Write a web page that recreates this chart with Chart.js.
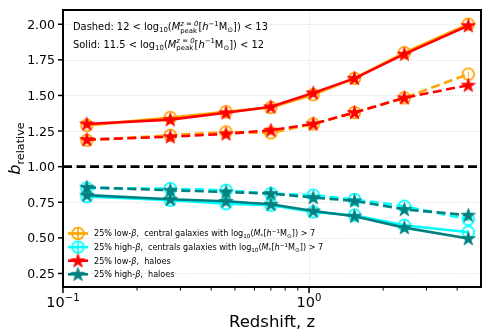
<!DOCTYPE html>
<html>
<head>
<meta charset="utf-8">
<script src="https://cdn.jsdelivr.net/npm/chart.js@4.4.1/dist/chart.umd.min.js"></script>
<style>
  html, body { margin: 0; padding: 0; background: #fff; }
</style>
</head>
<body>
<canvas id="chart" width="494" height="336"></canvas>
<script>
// Relative bias vs redshift

const redshift = [0.125, 0.273, 0.46, 0.70, 1.04, 1.53, 2.44, 4.44];

// solid: 11.5 < log Mpeak < 12, dashed: 12 < log Mpeak < 13
const lowBetaCentralsSolid  = [1.29, 1.345, 1.385, 1.415, 1.505, 1.62, 1.80, 2.00];
const lowBetaCentralsDashed = [1.185, 1.22, 1.244, 1.237, 1.30, 1.38, 1.483, 1.65];
const highBetaCentralsSolid  = [0.79, 0.764, 0.74, 0.73, 0.682, 0.659, 0.588, 0.54];
const highBetaCentralsDashed = [0.85, 0.846, 0.834, 0.811, 0.80, 0.769, 0.722, 0.63];
const lowBetaHaloesSolid  = [1.30, 1.33, 1.378, 1.42, 1.518, 1.62, 1.79, 1.99];
const lowBetaHaloesDashed = [1.19, 1.21, 1.23, 1.256, 1.30, 1.38, 1.483, 1.572];
const highBetaHaloesSolid  = [0.80, 0.771, 0.757, 0.736, 0.689, 0.652, 0.572, 0.495];
const highBetaHaloesDashed = [0.855, 0.834, 0.822, 0.811, 0.783, 0.76, 0.70, 0.659];

const unityX = [0.1, 5];
const unityY = [1, 1];

const yTicks = [0.25, 0.50, 0.75, 1.00, 1.25, 1.50, 1.75, 2.00];
const xMajorTicks = [0.1, 1];
const xMajorLabels = ['\u22121', '0'];
const xMinorTicks = [0.2, 0.3, 0.4, 0.5, 0.6, 0.7, 0.8, 0.9, 2, 3, 4];

// text pieces: [text, kind]  kind: '' normal, 'i' italic, '^' sup, '_' sub, 'S' stacked sup/sub
const noteDashed = [['Dashed: 12 < log', ''], ['10', '_'], ['(', ''], ['M', 'i'], [['z = 0', 'peak'], 'S'],
  ['[', ''], ['h', 'i'], ['\u22121', '^'], ['M', ''], ['\u2299', '_'], [']) < 13', '']];
const noteSolid = [['Solid: 11.5 < log', ''], ['10', '_'], ['(', ''], ['M', 'i'], [['z = 0', 'peak'], 'S'],
  ['[', ''], ['h', 'i'], ['\u22121', '^'], ['M', ''], ['\u2299', '_'], [']) < 12', '']];

const legendLabels = [
  [['25% low-', ''], ['\u03b2', 'i'], [',  central galaxies with log', ''], ['10', '_'], ['(', ''], ['M', 'i'], ['*', '_'],
   ['[', ''], ['h', 'i'], ['\u22121', '^'], ['M', ''], ['\u2299', '_'], [']) > 7', '']],
  [['25% high-', ''], ['\u03b2', 'i'], [',  centrals galaxies with log', ''], ['10', '_'], ['(', ''], ['M', 'i'], ['*', '_'],
   ['[', ''], ['h', 'i'], ['\u22121', '^'], ['M', ''], ['\u2299', '_'], [']) > 7', '']],
  [['25% low-', ''], ['\u03b2', 'i'], [',  haloes', '']],
  [['25% high-', ''], ['\u03b2', 'i'], [',  haloes', '']]
];

const ORANGE = '#FFA500', CYAN = '#00FFFF', RED = '#FF0000', TEAL = '#008080';
const FONT = '"DejaVu Sans", sans-serif';

function circleMarker(color) {
  const c = document.createElement('canvas');
  c.width = 15; c.height = 15;
  const g = c.getContext('2d');
  g.strokeStyle = color;
  g.lineWidth = 1.8;
  g.beginPath();
  g.arc(7.5, 7.5, 5.8, 0, Math.PI * 2);
  g.stroke();
  g.lineWidth = 1;
  g.beginPath();
  g.moveTo(7.5, 5); g.lineTo(7.5, 10);
  g.stroke();
  return c;
}

function starMarker(color) {
  const c = document.createElement('canvas');
  c.width = 17; c.height = 17;
  const g = c.getContext('2d');
  const R = 7.4, r = R * 0.382;
  g.fillStyle = color;
  g.strokeStyle = color;
  g.lineWidth = 0.8;
  g.beginPath();
  for (let i = 0; i < 10; i++) {
    const a = -Math.PI / 2 + i * Math.PI / 5;
    const rr = i % 2 === 0 ? R : r;
    const px = 8.5 + rr * Math.cos(a), py = 8.9 + rr * Math.sin(a);
    if (i === 0) g.moveTo(px, py); else g.lineTo(px, py);
  }
  g.closePath();
  g.fill();
  g.stroke();
  return c;
}

const markers = {
  orange: circleMarker(ORANGE),
  cyan: circleMarker(CYAN),
  red: starMarker(RED),
  teal: starMarker(TEAL)
};

function pts(ys) {
  return redshift.map((z, i) => ({ x: z, y: ys[i] }));
}

function series(label, ys, color, marker, dashed) {
  return {
    label: label,
    data: pts(ys),
    borderColor: color,
    backgroundColor: color,
    borderWidth: 2.6,
    borderDash: dashed ? [9, 4.5] : [],
    pointStyle: marker,
    pointRadius: 7,
    tension: 0
  };
}

function mathText(ctx, x, y, segs, size) {
  let cx = x;
  segs.forEach(([t, k]) => {
    const small = k === '^' || k === '_' || k === 'S';
    const fs = small ? size * 0.7 : size;
    if (k === 'S') {
      ctx.font = `italic ${fs}px ${FONT}`;
      ctx.fillText(t[0], cx, y - size * 0.42);
      const w1 = ctx.measureText(t[0]).width;
      ctx.font = `${fs}px ${FONT}`;
      ctx.fillText(t[1], cx, y + size * 0.28);
      const w2 = ctx.measureText(t[1]).width;
      cx += Math.max(w1, w2);
      return;
    }
    ctx.font = `${k === 'i' ? 'italic ' : ''}${fs}px ${FONT}`;
    const dy = k === '^' ? -size * 0.42 : k === '_' ? size * 0.24 : 0;
    ctx.fillText(t, cx, y + dy);
    cx += ctx.measureText(t).width;
  });
  return cx;
}

function mathWidth(ctx, segs, size) {
  ctx.save();
  ctx.globalAlpha = 0;
  const w = mathText(ctx, 0, -100, segs, size);
  ctx.restore();
  return w;
}

const axesPlugin = {
  id: 'axesPlugin',
  beforeDatasetsDraw(chart) {
    const { ctx, chartArea: a, scales: { x, y } } = chart;
    ctx.save();
    ctx.strokeStyle = '#d2d2d2';
    ctx.lineWidth = 0.8;
    ctx.setLineDash([1.2, 1.6]);
    yTicks.forEach(v => {
      const py = Math.round(y.getPixelForValue(v)) + 0.5;
      ctx.beginPath(); ctx.moveTo(a.left, py); ctx.lineTo(a.right, py); ctx.stroke();
    });
    xMajorTicks.forEach(v => {
      const px = Math.round(x.getPixelForValue(v)) + 0.5;
      ctx.beginPath(); ctx.moveTo(px, a.top); ctx.lineTo(px, a.bottom); ctx.stroke();
    });
    ctx.restore();
  },
  afterDatasetsDraw(chart) {
    const { ctx, chartArea: a, scales: { x, y } } = chart;
    ctx.save();
    ctx.setLineDash([]);
    ctx.strokeStyle = '#000';
    ctx.fillStyle = '#000';

    // frame
    ctx.lineWidth = 2;
    ctx.strokeRect(a.left, a.top, a.right - a.left, a.bottom - a.top);

    // y ticks + labels
    ctx.lineWidth = 1.5;
    ctx.font = `12.5px ${FONT}`;
    ctx.textAlign = 'right';
    ctx.textBaseline = 'alphabetic';
    yTicks.forEach(v => {
      const py = y.getPixelForValue(v);
      ctx.beginPath(); ctx.moveTo(a.left - 5, py); ctx.lineTo(a.left, py); ctx.stroke();
      ctx.fillText(v.toFixed(2), a.left - 8, py + 4.5);
    });

    // x ticks
    xMajorTicks.forEach(v => {
      const px = x.getPixelForValue(v);
      ctx.beginPath(); ctx.moveTo(px, a.bottom); ctx.lineTo(px, a.bottom + 6); ctx.stroke();
    });
    ctx.lineWidth = 1;
    xMinorTicks.forEach(v => {
      const px = x.getPixelForValue(v);
      ctx.beginPath(); ctx.moveTo(px, a.bottom); ctx.lineTo(px, a.bottom + 3.5); ctx.stroke();
    });
    ctx.textAlign = 'left';
    xMajorTicks.forEach((v, i) => {
      const px = x.getPixelForValue(v);
      const segs = [['10', ''], [xMajorLabels[i], '^']];
      const w = mathWidth(ctx, segs, 14.5);
      mathText(ctx, px - w / 2, a.bottom + 20, segs, 14.5);
    });

    // axis titles
    ctx.font = `16.5px ${FONT}`;
    ctx.textAlign = 'center';
    ctx.fillText('Redshift, z', (a.left + a.right) / 2, a.bottom + 40);

    ctx.save();
    ctx.translate(20, (a.top + a.bottom) / 2);
    ctx.rotate(-Math.PI / 2);
    ctx.textAlign = 'left';
    const ylab = [['b', 'i'], ['relative', '_']];
    const yw = mathWidth(ctx, ylab, 16);
    mathText(ctx, -yw / 2, 0, ylab, 16);
    ctx.restore();

    // notes
    ctx.textAlign = 'left';
    mathText(ctx, a.left + 10, a.top + 20, noteDashed, 9.9);
    mathText(ctx, a.left + 10, a.top + 37.5, noteSolid, 9.9);

    // legend
    const handles = [
      { color: ORANGE, marker: markers.orange, bar: true },
      { color: CYAN, marker: markers.cyan, bar: true },
      { color: RED, marker: markers.red },
      { color: TEAL, marker: markers.teal }
    ];
    handles.forEach((h, i) => {
      const ry = 233.5 + i * 13.6;
      ctx.strokeStyle = h.color;
      ctx.lineWidth = 2.6;
      ctx.beginPath(); ctx.moveTo(68, ry); ctx.lineTo(88, ry); ctx.stroke();
      if (h.bar) {
        ctx.lineWidth = 1.6;
        ctx.beginPath(); ctx.moveTo(78, ry - 6); ctx.lineTo(78, ry + 6); ctx.stroke();
      }
      ctx.drawImage(h.marker, 78 - h.marker.width / 2, ry - h.marker.height / 2);
      ctx.fillStyle = '#000';
      mathText(ctx, 94, ry + 2.9, legendLabels[i], 8.1);
    });
    ctx.restore();
  }
};

new Chart(document.getElementById('chart'), {
  type: 'line',
  data: {
    datasets: [
      series('25% low-β, haloes (solid)', lowBetaHaloesSolid, RED, markers.red, false),
      series('25% low-β, haloes (dashed)', lowBetaHaloesDashed, RED, markers.red, true),
      series('25% high-β, haloes (solid)', highBetaHaloesSolid, TEAL, markers.teal, false),
      series('25% high-β, haloes (dashed)', highBetaHaloesDashed, TEAL, markers.teal, true),
      series('25% low-β, centrals (solid)', lowBetaCentralsSolid, ORANGE, markers.orange, false),
      series('25% low-β, centrals (dashed)', lowBetaCentralsDashed, ORANGE, markers.orange, true),
      series('25% high-β, centrals (solid)', highBetaCentralsSolid, CYAN, markers.cyan, false),
      series('25% high-β, centrals (dashed)', highBetaCentralsDashed, CYAN, markers.cyan, true),
      {
        label: 'unity',
        data: unityX.map((v, i) => ({ x: v, y: unityY[i] })),
        borderColor: '#000',
        borderWidth: 2.6,
        borderDash: [9, 4.5],
        pointRadius: 0
      }
    ]
  },
  options: {
    responsive: false,
    animation: false,
    events: [],
    layout: { padding: { top: 10, right: 13, left: 0, bottom: 0 } },
    plugins: { legend: { display: false }, tooltip: { enabled: false } },
    scales: {
      x: {
        type: 'logarithmic',
        min: 0.1,
        max: 5,
        grid: { display: false },
        border: { display: false },
        ticks: { display: false },
        afterFit(scale) { scale.height = 49; }
      },
      y: {
        type: 'linear',
        min: 0.155,
        max: 2.10,
        grid: { display: false },
        border: { display: false },
        ticks: { display: false },
        afterFit(scale) { scale.width = 63; }
      }
    }
  },
  plugins: [axesPlugin]
});
</script>
</body>
</html>
